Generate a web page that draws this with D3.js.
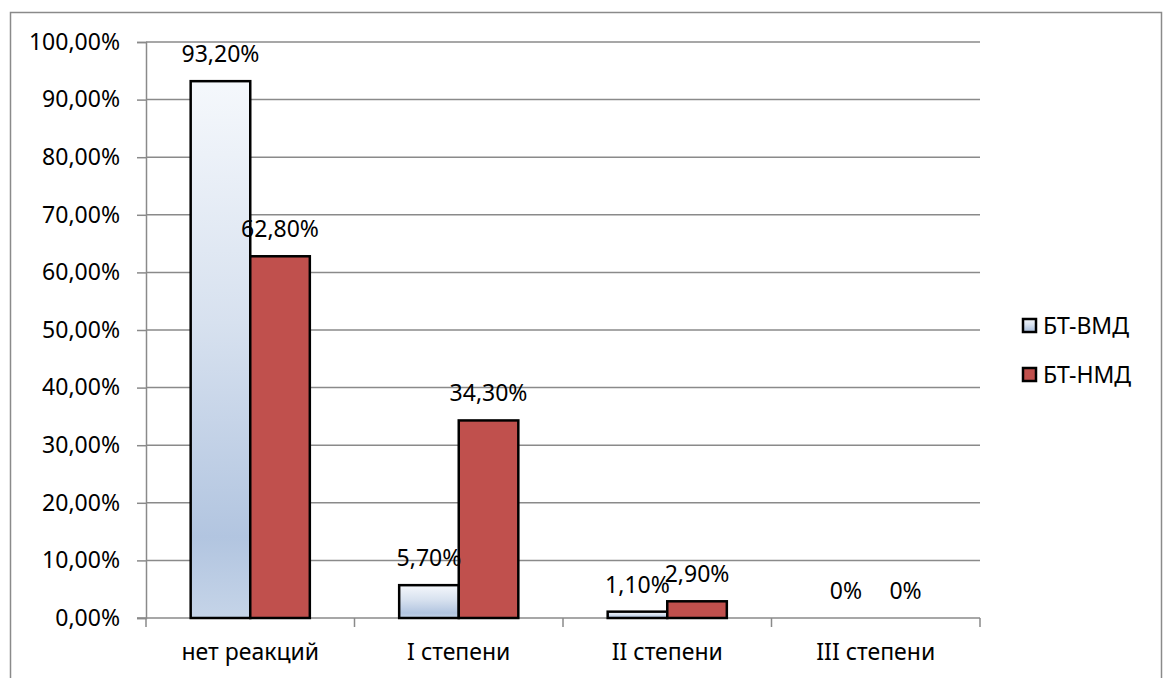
<!DOCTYPE html>
<html>
<head>
<meta charset="utf-8">
<script src="https://cdn.jsdelivr.net/npm/d3@7"></script>
<style>
  html, body { margin: 0; padding: 0; background: #fff; }
  svg { display: block; }
  text { font-family: "Noto Sans", "DejaVu Sans", sans-serif; fill: #000; }
</style>
</head>
<body>
<svg id="chart" width="1164" height="678"></svg>
<script>
// Reaction grade categories and the share of patients in each group
const categories = ["нет реакций", "I степени", "II степени", "III степени"];
const seriesNames = ["БТ-ВМД", "БТ-НМД"];
const vmdValues = [93.2, 5.7, 1.1, 0];
const nmdValues = [62.8, 34.3, 2.9, 0];
const valueLabels = [
  ["93,20%", "5,70%", "1,10%", "0%"],
  ["62,80%", "34,30%", "2,90%", "0%"]
];
const yTicks = [0, 10, 20, 30, 40, 50, 60, 70, 80, 90, 100];
const yTickLabels = ["0,00%", "10,00%", "20,00%", "30,00%", "40,00%", "50,00%",
                     "60,00%", "70,00%", "80,00%", "90,00%", "100,00%"];

const seriesValues = [vmdValues, nmdValues];

const svg = d3.select("#chart");
const FONT = 23;
const plot = { left: 146, right: 980, top: 42, bottom: 618 };

// Gradient for the light-blue series
const defs = svg.append("defs");
const grad = defs.append("linearGradient")
  .attr("id", "blueGrad").attr("x1", 0).attr("y1", 0).attr("x2", 0).attr("y2", 1);
grad.append("stop").attr("offset", "0%").attr("stop-color", "#f5f8fc");
grad.append("stop").attr("offset", "45%").attr("stop-color", "#d7e1ef");
grad.append("stop").attr("offset", "85%").attr("stop-color", "#b2c5e0");
grad.append("stop").attr("offset", "100%").attr("stop-color", "#c5d4e8");

const fills = ["url(#blueGrad)", "#c0504d"];

// Outer chart frame
svg.append("rect")
  .attr("x", 10.5).attr("y", 12.5)
  .attr("width", 1151).attr("height", 700)
  .attr("fill", "none").attr("stroke", "#8a8a8a").attr("stroke-width", 1.5);

const x = d3.scaleBand().domain(categories).range([plot.left, plot.right]).padding(0);
const xInner = d3.scaleBand().domain([0, 1]).range([0, x.bandwidth()])
  .paddingInner(0).paddingOuter(0.75);
const y = d3.scaleLinear().domain([0, 100]).range([plot.bottom, plot.top]);

// Horizontal gridlines
svg.append("g").selectAll("line")
  .data(yTicks.filter(d => d > 0))
  .join("line")
  .attr("x1", plot.left).attr("x2", plot.right)
  .attr("y1", d => y(d)).attr("y2", d => y(d))
  .attr("stroke", "#8a8a8a").attr("stroke-width", 1.5);

// Y axis
const yAxis = d3.axisLeft(y)
  .tickValues(yTicks)
  .tickFormat((d, i) => yTickLabels[i])
  .tickSize(9).tickPadding(17);
const gy = svg.append("g").attr("transform", `translate(${plot.left},0)`).call(yAxis);
gy.select(".domain").attr("stroke", "#8a8a8a").attr("stroke-width", 1.5);
gy.selectAll(".tick line").attr("stroke", "#8a8a8a").attr("stroke-width", 1.5);
gy.selectAll(".tick text")
  .style("font-family", '"Noto Sans", sans-serif')
  .style("font-size", FONT + "px").attr("fill", "#000");

// X axis
const gx = svg.append("g").attr("transform", `translate(0,${plot.bottom})`)
  .call(d3.axisBottom(x).tickSize(0).tickPadding(26));
gx.select(".domain").remove();
gx.selectAll(".tick text")
  .style("font-family", '"Noto Sans", sans-serif')
  .style("font-size", FONT + "px").attr("fill", "#000");
// Axis baseline and category boundary ticks
svg.append("line")
  .attr("x1", plot.left - 9).attr("x2", plot.right)
  .attr("y1", plot.bottom).attr("y2", plot.bottom)
  .attr("stroke", "#8a8a8a").attr("stroke-width", 1.5);
const boundaries = categories.map(c => x(c)).concat([plot.right]);
svg.append("g").selectAll("line")
  .data(boundaries)
  .join("line")
  .attr("x1", d => d).attr("x2", d => d)
  .attr("y1", plot.bottom).attr("y2", plot.bottom + 9)
  .attr("stroke", "#8a8a8a").attr("stroke-width", 1.5);

// Bars
const barData = [];
seriesValues.forEach((vals, s) => {
  vals.forEach((v, i) => barData.push({ s, cat: categories[i], v, label: valueLabels[s][i] }));
});

svg.append("g").selectAll("rect")
  .data(barData.filter(d => d.v > 0))
  .join("rect")
  .attr("x", d => x(d.cat) + xInner(d.s))
  .attr("y", d => y(d.v))
  .attr("width", xInner.bandwidth())
  .attr("height", d => y(0) - y(d.v))
  .attr("fill", d => fills[d.s])
  .attr("stroke", "#000").attr("stroke-width", 2.5);

// Value labels
svg.append("g").selectAll("text")
  .data(barData)
  .join("text")
  .attr("x", d => x(d.cat) + xInner(d.s) + xInner.bandwidth() / 2)
  .attr("y", d => y(d.v) - 19)
  .attr("text-anchor", "middle")
  .style("font-size", FONT + "px")
  .text(d => d.label);

// Legend
const legend = svg.append("g");
seriesNames.forEach((name, i) => {
  const cy = 325.5 + i * 49;
  legend.append("rect")
    .attr("x", 1023).attr("y", cy - 6.5)
    .attr("width", 13).attr("height", 13)
    .attr("fill", fills[i]).attr("stroke", "#000").attr("stroke-width", 2.5);
  legend.append("text")
    .attr("x", 1043).attr("y", cy)
    .attr("dy", "0.35em")
    .style("font-size", FONT + "px")
    .text(name);
});
</script>
</body>
</html>
